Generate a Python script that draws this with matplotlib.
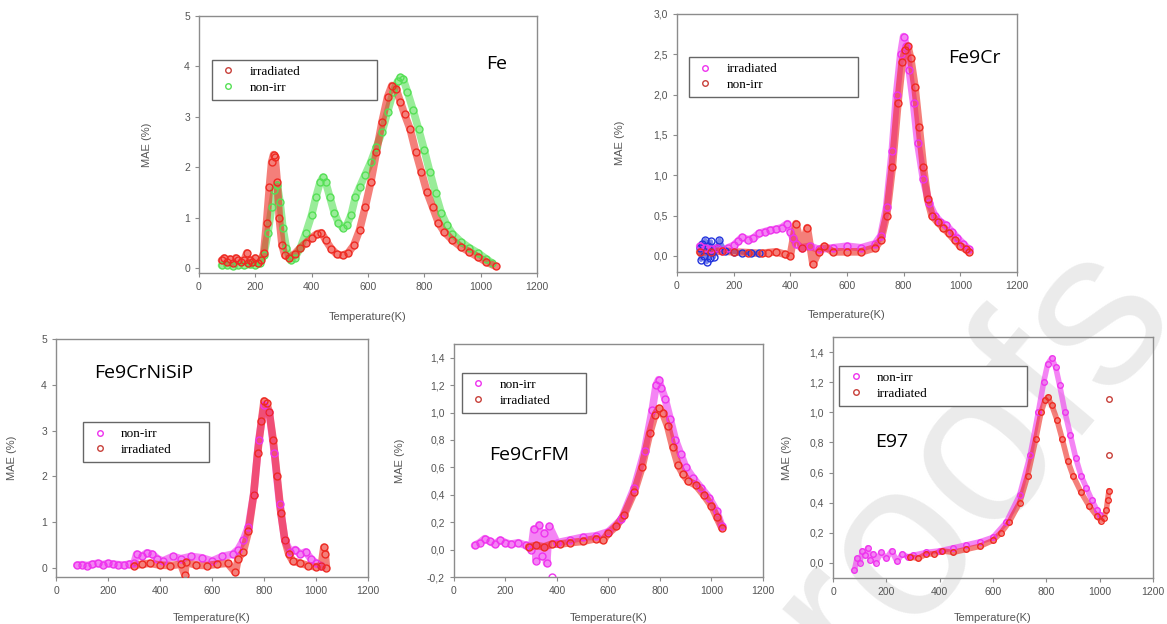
import matplotlib.pyplot as plt
from matplotlib.lines import Line2D

RED = '#ee2a22'
RED_EDGE = '#c8403a'
GREEN = '#55e055'
MAGENTA = '#ee33ee'
BLUE = '#2233dd'

# ---- Fe ----
fe_irr_T = [80, 90, 100, 110, 120, 130, 140, 150, 160, 170, 175, 180, 190, 200, 210, 220, 230, 240, 250, 258,
            265, 270, 278, 285, 295, 305, 320, 340, 360, 380, 400, 420, 435, 450, 470, 490, 510, 530, 550, 570,
            590, 610, 630, 650, 670, 685, 700, 715, 730, 750, 770, 790, 810, 830, 850, 870, 900, 930, 960, 990,
            1020, 1055]
fe_irr_M = [0.15, 0.2, 0.12, 0.18, 0.1, 0.2, 0.15, 0.12, 0.15, 0.3, 0.1, 0.15, 0.12, 0.2, 0.1, 0.15, 0.3, 0.9, 1.6, 2.1,
            2.25, 2.2, 1.7, 1.0, 0.45, 0.25, 0.2, 0.28, 0.4, 0.5, 0.6, 0.68, 0.7, 0.55, 0.38, 0.27, 0.25, 0.3, 0.45, 0.75,
            1.2, 1.7, 2.3, 2.9, 3.4, 3.62, 3.55, 3.3, 3.05, 2.75, 2.3, 1.9, 1.5, 1.2, 0.9, 0.72, 0.55, 0.42, 0.32, 0.22,
            0.12, 0.03]
fe_non_T = [80, 100, 120, 140, 160, 180, 200, 215, 230, 245, 258, 268, 278, 288, 298, 310, 325, 340, 360, 380, 400,
            415, 430, 440, 450, 465, 480, 495, 510, 525, 540, 555, 570, 590, 610, 630, 650, 670, 690, 705, 715, 725,
            740, 760, 780, 800, 820, 840, 860, 880, 900, 930, 960, 990, 1020, 1040]
fe_non_M = [0.05, 0.06, 0.04, 0.06, 0.05, 0.07, 0.05, 0.1, 0.25, 0.7, 1.2, 1.55, 1.65, 1.3, 0.8, 0.4, 0.15, 0.2, 0.4, 0.7,
            1.05, 1.4, 1.7, 1.8, 1.7, 1.4, 1.1, 0.9, 0.8, 0.85, 1.05, 1.4, 1.6, 1.85, 2.1, 2.4, 2.7, 3.1, 3.5, 3.7, 3.78,
            3.75, 3.5, 3.14, 2.75, 2.34, 1.9, 1.48, 1.1, 0.85, 0.68, 0.52, 0.4, 0.3, 0.18, 0.1]

# ---- Fe9Cr ----
cr_blue_T = [80, 85, 90, 95, 100, 105, 110, 115, 120, 125, 130, 140, 150, 170, 200, 230, 260, 290]
cr_blue_M = [0.1, -0.05, 0.15, 0.0, 0.2, -0.08, 0.12, -0.03, 0.18, 0.05, -0.02, 0.1, 0.2, 0.06, 0.05, 0.04, 0.03, 0.03]
cr_irr_T = [80, 100, 120, 140, 160, 180, 200, 215, 230, 250, 270, 290, 310, 330, 350, 370, 390, 400, 410, 420, 440,
            470, 500, 550, 600, 650, 700, 720, 740, 760, 775, 790, 800, 810, 820, 835, 850, 870, 890, 910, 930, 950,
            970, 990, 1010, 1030]
cr_irr_M = [0.12, 0.1, 0.08, 0.1, 0.06, 0.1, 0.13, 0.18, 0.23, 0.2, 0.22, 0.28, 0.3, 0.32, 0.33, 0.35, 0.4, 0.3, 0.22,
            0.15, 0.1, 0.12, 0.08, 0.1, 0.12, 0.1, 0.15, 0.25, 0.6, 1.3, 2.0, 2.5, 2.72, 2.6, 2.3, 1.9, 1.4, 0.95, 0.65,
            0.5, 0.42, 0.38, 0.3, 0.22, 0.15, 0.08]
cr_non_T = [80, 120, 160, 200, 250, 300, 320, 350, 380, 400, 420, 440, 460, 480, 500, 520, 550, 600, 650, 700, 720,
            740, 760, 780, 795, 805, 815, 825, 840, 855, 870, 885, 900, 920, 940, 960, 980, 1000, 1020, 1030]
cr_non_M = [0.05, 0.05, 0.06, 0.05, 0.04, 0.03, 0.04, 0.05, 0.02, 0.0, 0.4, 0.1, 0.35, -0.1, 0.05, 0.12, 0.05, 0.05,
            0.05, 0.1, 0.2, 0.5, 1.1, 1.9, 2.4, 2.55, 2.6, 2.45, 2.1, 1.6, 1.1, 0.7, 0.5, 0.42, 0.35, 0.28, 0.2, 0.12,
            0.08, 0.05]

# ---- Fe9CrNiSiP ----
ni_non_T = [80, 100, 120, 140, 160, 180, 200, 220, 240, 260, 280, 300, 310, 330, 350, 370, 390, 410, 450, 480, 520,
            560, 600, 640, 680, 700, 720, 740, 760, 780, 800, 820, 840, 860, 880, 900, 920, 940, 960, 980, 1000, 1020]
ni_non_M = [0.06, 0.07, 0.05, 0.08, 0.1, 0.07, 0.1, 0.08, 0.07, 0.06, 0.08, 0.1, 0.3, 0.25, 0.33, 0.3, 0.2, 0.15, 0.25,
            0.2, 0.25, 0.22, 0.15, 0.25, 0.3, 0.4, 0.6, 0.9, 1.6, 2.8, 3.55, 3.4, 2.5, 1.4, 0.6, 0.35, 0.4, 0.3, 0.35,
            0.2, 0.1, 0.05]
ni_irr_T = [300, 330, 360, 400, 440, 480, 495, 500, 540, 580, 620, 660, 690, 700, 720, 740, 760, 775, 790, 800, 810,
            820, 835, 850, 865, 880, 895, 910, 940, 970, 1000, 1020, 1030, 1035, 1040]
ni_irr_M = [0.05, 0.08, 0.1, 0.06, 0.05, 0.08, -0.15, 0.12, 0.06, 0.05, 0.08, 0.1, -0.1, 0.2, 0.35, 0.8, 1.6, 2.5, 3.2,
            3.65, 3.6, 3.4, 2.8, 2.0, 1.2, 0.6, 0.3, 0.15, 0.1, 0.05, 0.02, 0.05, 0.45, 0.3, 0.0]

# ---- Fe9CrFM ----
fm_non_T = [80, 100, 120, 140, 160, 180, 200, 220, 250, 280, 300, 310, 320, 330, 340, 350, 360, 370, 400, 450, 500,
            550, 600, 650, 700, 740, 770, 785, 795, 805, 820, 840, 860, 880, 900, 930, 960, 990, 1020, 1040]
fm_non_M = [0.03, 0.05, 0.08, 0.06, 0.04, 0.07, 0.05, 0.04, 0.05, 0.03, 0.0, 0.15, -0.08, 0.18, -0.05, 0.12, -0.1, 0.17,
            0.05, 0.07, 0.09, 0.1, 0.13, 0.22, 0.45, 0.72, 1.02, 1.2, 1.24, 1.18, 1.1, 0.95, 0.8, 0.7, 0.6, 0.52, 0.45,
            0.38, 0.28, 0.17]
fm_out_T = [380]
fm_out_M = [-0.2]
fm_irr_T = [290, 320, 350, 380, 410, 450, 500, 550, 580, 600, 630, 660, 700, 730, 760, 780, 795, 810, 830, 850, 870,
            890, 910, 940, 970, 1000, 1020, 1040]
fm_irr_M = [0.02, 0.03, 0.02, 0.04, 0.04, 0.05, 0.06, 0.08, 0.07, 0.12, 0.17, 0.25, 0.42, 0.6, 0.85, 0.98, 1.03, 1.0,
            0.9, 0.75, 0.62, 0.55, 0.5, 0.47, 0.4, 0.32, 0.24, 0.16]

# ---- E97 ----
e97_non_T = [80, 90, 100, 110, 120, 130, 140, 150, 160, 180, 200, 220, 240, 260, 280, 300, 350, 400, 450, 500, 550,
             600, 650, 700, 740, 770, 790, 805, 820, 835, 850, 870, 890, 910, 930, 950, 970, 990, 1000]
e97_non_M = [-0.05, 0.03, 0.0, 0.08, 0.05, 0.1, 0.02, 0.06, 0.0, 0.07, 0.03, 0.08, 0.01, 0.06, 0.04, 0.05, 0.07, 0.08,
             0.1, 0.12, 0.14, 0.17, 0.27, 0.45, 0.72, 1.0, 1.2, 1.32, 1.36, 1.3, 1.18, 1.0, 0.85, 0.7, 0.58, 0.5, 0.42,
             0.35, 0.32]
e97_irr_T = [290, 320, 350, 380, 410, 450, 500, 550, 600, 630, 660, 700, 730, 760, 780, 795, 805, 820, 840, 860, 880,
             900, 930, 960, 990, 1005, 1015, 1025, 1030, 1035]
e97_irr_M = [0.04, 0.03, 0.06, 0.06, 0.08, 0.07, 0.09, 0.11, 0.15, 0.2, 0.27, 0.4, 0.58, 0.82, 1.0, 1.08, 1.1, 1.05,
             0.95, 0.82, 0.68, 0.58, 0.47, 0.38, 0.31, 0.28, 0.3, 0.35, 0.42, 0.48]
e97_out_T = [1036, 1036]
e97_out_M = [0.72, 1.09]

plt.rcParams['font.family'] = ['Liberation Sans', 'DejaVu Sans']
fig = plt.figure(figsize=(11.67, 6.24), dpi=100)

# watermark behind the panels
fig.text(0.80, 0.19, 'proofs', rotation=50, fontsize=160, color='#ebebeb',
         ha='center', va='center', zorder=-5, family='Liberation Sans')


def series(ax, T, M, c, lw=5.5, ms=5):
    ax.plot(T, M, '-', color=c, lw=lw, alpha=0.6, solid_capstyle='round', zorder=2)
    ax.plot(T, M, 'o', mfc='none', mec=c, ms=ms, mew=1.0, zorder=3)


def panel(rect, ylim, yticks, ylabels, title, tpos, leg, leg_box, xl_y, yl_x):
    ax = fig.add_axes(rect)
    ax.set_facecolor('none')
    ax.set_xlim(0, 1200)
    ax.set_ylim(*ylim)
    ax.set_xticks(range(0, 1201, 200))
    ax.set_yticks(yticks)
    ax.set_yticklabels(ylabels)
    for s in ax.spines.values():
        s.set_color('#8c8c8c')
        s.set_linewidth(1.0)
    ax.tick_params(labelsize=7.5, colors='#8c8c8c', labelcolor='#555555', length=3, width=0.8)
    ax.set_xlabel('Temperature(K)', fontsize=8, color='#555555')
    ax.set_ylabel('MAE (%)', fontsize=8, color='#555555')
    ax.xaxis.set_label_coords(0.5, xl_y)
    ax.yaxis.set_label_coords(yl_x, 0.5)
    ax.text(tpos[0], tpos[1], title, transform=ax.transAxes, fontsize=14, family='Open Sans',
            ha='center', va='center', color='black')
    handles = [Line2D([], [], ls='none', marker='o', mfc='none', mec=c, ms=4, mew=1.0) for _, c in leg]
    x0, top, w = leg_box
    lg = ax.legend(handles, [l for l, _ in leg], loc='upper left', bbox_to_anchor=(x0, 0, w, top), mode='expand',
                   prop={'family': 'Liberation Serif', 'size': 9.5}, frameon=True, fancybox=False,
                   edgecolor='#666666', framealpha=1, borderpad=0.45, labelspacing=0.25, handletextpad=0.8,
                   handlelength=1.6, borderaxespad=0)
    lg.get_frame().set_linewidth(1.0)
    return ax


ax1 = panel([0.1705, 0.5625, 0.2896, 0.4119], (-0.1, 5), range(0, 6), [str(i) for i in range(6)],
            'Fe', (0.88, 0.813), [('irradiated', RED_EDGE), ('non-irr', GREEN)],
            (0.038, 0.829, 0.488), -0.15, -0.14)
series(ax1, fe_non_T, fe_non_M, GREEN)
series(ax1, fe_irr_T, fe_irr_M, RED)

ax2 = panel([0.5801, 0.5641, 0.2913, 0.4135], (-0.2, 3.0), [0, 0.5, 1, 1.5, 2, 2.5, 3],
            ['0,0', '0,5', '1,0', '1,5', '2,0', '2,5', '3,0'],
            'Fe9Cr', (0.876, 0.829), [('irradiated', MAGENTA), ('non-irr', RED_EDGE)],
            (0.035, 0.833, 0.497), -0.147, -0.153)
series(ax2, cr_blue_T, cr_blue_M, BLUE, lw=3)
series(ax2, cr_irr_T, cr_irr_M, MAGENTA)
series(ax2, cr_non_T, cr_non_M, RED)

ax3 = panel([0.0480, 0.0753, 0.2674, 0.3814], (-0.2, 5), range(0, 6), [str(i) for i in range(6)],
            'Fe9CrNiSiP', (0.282, 0.857), [('non-irr', MAGENTA), ('irradiated', RED_EDGE)],
            (0.087, 0.651, 0.404), -0.151, -0.125)
series(ax3, ni_non_T, ni_non_M, MAGENTA)
series(ax3, ni_irr_T, ni_irr_M, RED)

ax4 = panel([0.3890, 0.0753, 0.2648, 0.3734], (-0.2, 1.5), [-0.2, 0, 0.2, 0.4, 0.6, 0.8, 1.0, 1.2, 1.4],
            ['-0,2', '0,0', '0,2', '0,4', '0,6', '0,8', '1,0', '1,2', '1,4'],
            'Fe9CrFM', (0.243, 0.524), [('non-irr', MAGENTA), ('irradiated', RED_EDGE)],
            (0.026, 0.876, 0.401), -0.155, -0.159)
series(ax4, fm_non_T, fm_non_M, MAGENTA)
ax4.plot(fm_out_T, fm_out_M, 'o', mfc='none', mec=MAGENTA, ms=5)
series(ax4, fm_irr_T, fm_irr_M, RED)

ax5 = panel([0.7138, 0.0737, 0.2742, 0.3862], (-0.1, 1.5), [0, 0.2, 0.4, 0.6, 0.8, 1.0, 1.2, 1.4],
            ['0,0', '0,2', '0,4', '0,6', '0,8', '1,0', '1,2', '1,4'],
            'E97', (0.184, 0.564), [('non-irr', MAGENTA), ('irradiated', RED_EDGE)],
            (0.019, 0.880, 0.588), -0.145, -0.128)
series(ax5, e97_non_T, e97_non_M, MAGENTA, lw=4, ms=4)
series(ax5, e97_irr_T, e97_irr_M, RED, lw=4, ms=4)
ax5.plot(e97_out_T, e97_out_M, 'o', mfc='none', mec=RED_EDGE, ms=4)

fig.savefig('out.png', dpi=100)
